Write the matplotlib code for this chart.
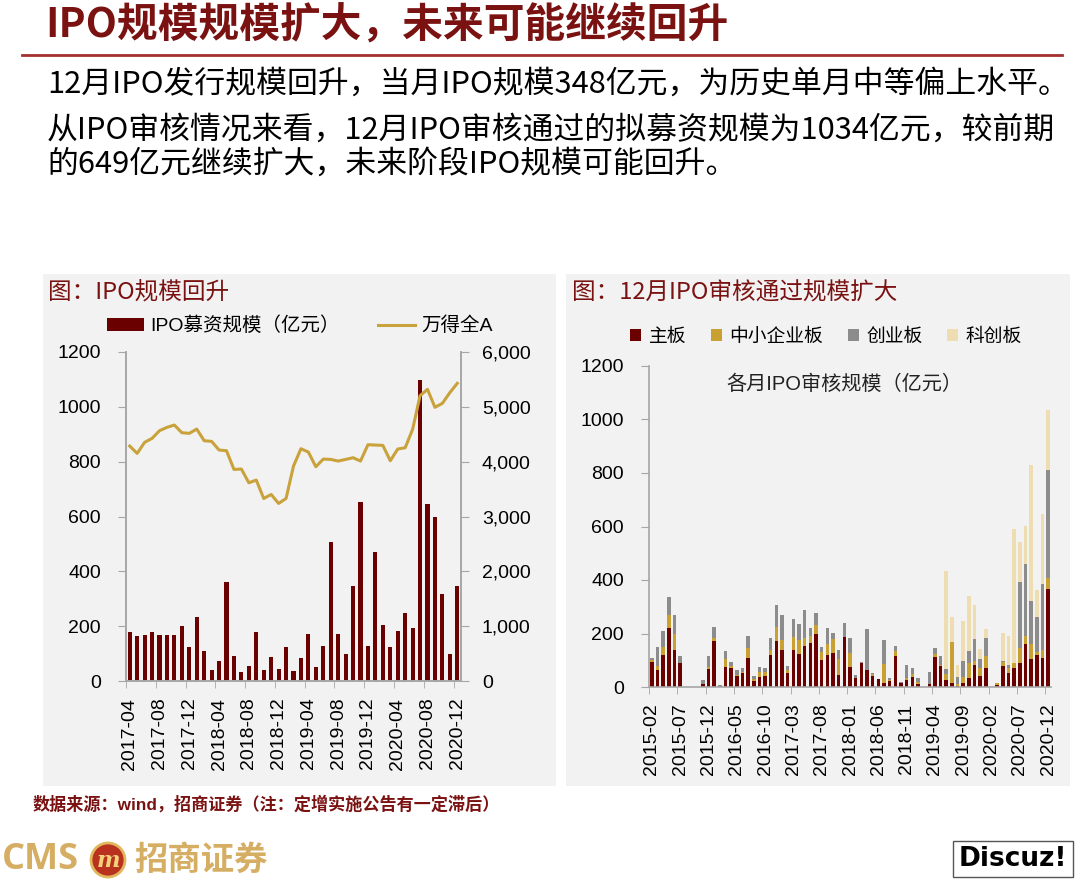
import numpy as np
import matplotlib
matplotlib.use('Agg')
import matplotlib.pyplot as plt
from matplotlib.patches import Rectangle, Ellipse
from matplotlib.lines import Line2D
from matplotlib.ticker import FuncFormatter, FixedLocator
from matplotlib.font_manager import FontProperties

# ---------------- data ----------------
left_tick_labels = ['2017-04', '2017-08', '2017-12', '2018-04', '2018-08', '2018-12',
                    '2019-04', '2019-08', '2019-12', '2020-04', '2020-08', '2020-12']
ipo_amount = [178, 163, 168, 180, 166, 169, 166, 200, 124, 232,
              110, 40, 73, 361, 90, 32, 55, 178, 41, 88,
              44, 124, 37, 84, 173, 50, 129, 507, 173, 100,
              346, 654, 127, 469, 206, 124, 181, 249, 192, 1097,
              645, 599, 319, 100, 348]
wind_a = [4285, 4151, 4352, 4425, 4565, 4626, 4668, 4528, 4516, 4595,
          4382, 4370, 4212, 4200, 3859, 3865, 3615, 3664, 3329, 3402,
          3238, 3329, 3920, 4236, 4175, 3907, 4047, 4041, 4011, 4041,
          4072, 4011, 4309, 4303, 4297, 4017, 4230, 4254, 4589, 5204,
          5319, 4991, 5064, 5259, 5429]

right_tick_labels = ['2015-02', '2015-07', '2015-12', '2016-05', '2016-10', '2017-03',
                     '2017-08', '2018-01', '2018-06', '2018-11', '2019-04', '2019-09',
                     '2020-02', '2020-07', '2020-12']
main_board = [93, 62, 119, 221, 137, 90, 0, 0, 0, 12,
              66, 171, 0, 75, 70, 42, 52, 109, 24, 36,
              41, 121, 171, 137, 51, 137, 125, 152, 164, 200,
              100, 120, 126, 44, 186, 74, 33, 90, 62, 42,
              30, 14, 22, 117, 16, 25, 37, 12, 0, 12,
              112, 77, 28, 16, 4, 15, 34, 82, 41, 72,
              0, 7, 79, 54, 70, 90, 160, 105, 121, 110,
              365]
sme_board = [9, 18, 31, 50, 62, 0, 0, 0, 0, 0,
             8, 14, 0, 31, 10, 4, 5, 36, 5, 20,
             14, 16, 52, 40, 11, 49, 52, 33, 27, 30,
             30, 40, 54, 61, 0, 53, 0, 0, 0, 5,
             0, 72, 5, 18, 0, 10, 12, 5, 0, 0,
             10, 5, 19, 151, 7, 21, 56, 15, 29, 45,
             0, 7, 16, 16, 21, 55, 31, 55, 11, 29,
             43]
gem_board = [7, 70, 58, 64, 72, 27, 0, 0, 0, 15,
             41, 38, 6, 30, 15, 19, 13, 46, 13, 19,
             15, 47, 82, 94, 17, 69, 59, 101, 30, 45,
             19, 62, 21, 35, 55, 58, 11, 2, 154, 7,
             1, 90, 7, 17, 2, 47, 23, 15, 0, 43,
             24, 33, 22, 0, 26, 61, 45, 84, 34, 65,
             0, 0, 2, 11, 0, 246, 270, 162, 131, 247,
             402]
star_board = [0, 0, 0, 0, 0, 0, 0, 0, 0, 0,
              0, 0, 0, 0, 0, 0, 0, 0, 0, 0,
              0, 0, 0, 0, 0, 0, 0, 0, 0, 0,
              0, 0, 0, 0, 0, 0, 0, 0, 0, 0,
              0, 0, 0, 0, 0, 0, 0, 0, 0, 0,
              0, 0, 363, 95, 45, 150, 205, 126, 37, 36,
              0, 0, 105, 110, 501, 150, 141, 507, 100, 261,
              225]

# ---------------- helpers ----------------
W, H = 1080, 881
def fx(x): return x / W
def fy(y): return 1 - y / H

CJK = ['Noto Sans CJK SC', 'DejaVu Sans']
LAT = ['Liberation Sans', 'Noto Sans CJK SC', 'DejaVu Sans']
DARK_RED = '#7A1212'
BAR_RED = '#6B0000'
GOLD = '#C9A23C'
SPINE = '#A6A6A6'
TICK_FS = 14

fig = plt.figure(figsize=(W / 100, H / 100), dpi=100)
fig.patch.set_facecolor('white')

# panels (behind axes)
fig.patches.append(Rectangle((fx(43), fy(786)), fx(556) - fx(43), fy(274) - fy(786),
                             transform=fig.transFigure, facecolor='#F2F2F2', edgecolor='none', zorder=-5))
fig.patches.append(Rectangle((fx(566), fy(786)), fx(1070) - fx(566), fy(274) - fy(786),
                             transform=fig.transFigure, facecolor='#F2F2F2', edgecolor='none', zorder=-5))

# headline
fig.text(fx(45), fy(26), 'IPO规模规模扩大，未来可能继续回升', fontsize=29.3, color=DARK_RED,
         fontweight='bold', va='center', ha='left', family=CJK)
fig.add_artist(Line2D([fx(22), fx(1062)], [fy(55), fy(55)], color='#A53030', lw=2))

para = ['12月IPO发行规模回升，当月IPO规模348亿元，为历史单月中等偏上水平。',
        '从IPO审核情况来看，12月IPO审核通过的拟募资规模为1034亿元，较前期',
        '的649亿元继续扩大，未来阶段IPO规模可能回升。']
for t, yy in zip(para, [84, 130, 164]):
    fig.text(fx(47), fy(yy), t, fontsize=22.2, color='black', va='center', ha='left',
             family=CJK, fontweight='medium')

# panel titles
fig.text(fx(48), fy(292), '图：IPO规模回升', fontsize=17, color=DARK_RED, va='center', family=CJK)
fig.text(fx(572), fy(292), '图：12月IPO审核通过规模扩大', fontsize=17, color=DARK_RED, va='center', family=CJK)

# ---------------- left chart ----------------
axL = fig.add_axes([fx(126), fy(681), fx(461) - fx(126), fy(352) - fy(681)])
axL.set_facecolor('none')
xl = np.arange(len(ipo_amount))
bars = axL.bar(xl, ipo_amount, width=0.55, color=BAR_RED, label='IPO募资规模（亿元）', zorder=2)
axL.set_xlim(-0.5, len(ipo_amount) - 0.5)
axL.set_ylim(0, 1200)
axL.set_yticks(np.arange(0, 1201, 200))
axR = axL.twinx()
line, = axR.plot(xl, wind_a, color=GOLD, lw=2.2, label='万得全A', zorder=3)
axR.set_ylim(0, 6000)
axR.set_yticks(np.arange(0, 6001, 1000))
axR.yaxis.set_major_formatter(FuncFormatter(lambda v, p: f'{int(v):,}'))

axL.set_xticks(np.arange(0, len(ipo_amount), 4))
axL.set_xticklabels(left_tick_labels, rotation=90)
axL.xaxis.set_minor_locator(FixedLocator(np.arange(-0.5, len(ipo_amount), 4)))
axL.tick_params(axis='x', which='major', length=0, pad=12)
axL.tick_params(axis='x', which='minor', length=5, color=SPINE, direction='out')
for ax in (axL, axR):
    ax.spines['top'].set_visible(False)
    for s in ('left', 'right', 'bottom'):
        ax.spines[s].set_color(SPINE)
        ax.spines[s].set_linewidth(1.2)
    ax.tick_params(axis='y', length=6, color=SPINE, labelsize=TICK_FS, pad=12)
    for lab in ax.get_yticklabels():
        lab.set_family(LAT)
axR.tick_params(axis='y', pad=9)
axL.tick_params(axis='x', labelsize=TICK_FS)
for lab in axL.get_xticklabels():
    lab.set_family(LAT)

fig.legend([bars, line], ['IPO募资规模（亿元）', '万得全A'], loc='center',
           bbox_to_anchor=(fx(300), fy(326)), ncol=2, frameon=False,
           prop=FontProperties(family=LAT, size=14), handlelength=1.9, handletextpad=0.3,
           columnspacing=2.0)

# ---------------- right chart ----------------
ax2 = fig.add_axes([fx(649), fy(687), fx(1051) - fx(649), fy(366) - fy(687)])
ax2.set_facecolor('none')
xr = np.arange(len(main_board))
m = np.array(main_board); s = np.array(sme_board); g = np.array(gem_board); k = np.array(star_board)
bw = 0.62
b1 = ax2.bar(xr, m, width=bw, color='#6B0000', label='主板')
b2 = ax2.bar(xr, s, width=bw, bottom=m, color='#C9A133', label='中小企业板')
b3 = ax2.bar(xr, g, width=bw, bottom=m + s, color='#8C8C8C', label='创业板')
b4 = ax2.bar(xr, k, width=bw, bottom=m + s + g, color='#EEDDB0', label='科创板')
ax2.set_xlim(-0.5, len(main_board) - 0.5)
ax2.set_ylim(0, 1200)
ax2.set_yticks(np.arange(0, 1201, 200))
ax2.set_xticks(np.arange(0, len(main_board), 5))
ax2.set_xticklabels(right_tick_labels, rotation=90)
ax2.xaxis.set_minor_locator(FixedLocator(np.arange(-0.5, len(main_board), 5)))
ax2.tick_params(axis='x', which='major', length=0, pad=12, labelsize=TICK_FS)
ax2.tick_params(axis='x', which='minor', length=5, color=SPINE, direction='out')
ax2.tick_params(axis='y', length=6, color=SPINE, labelsize=TICK_FS, pad=12)
for sp in ('top', 'right'):
    ax2.spines[sp].set_visible(False)
for sp in ('left', 'bottom'):
    ax2.spines[sp].set_color(SPINE)
    ax2.spines[sp].set_linewidth(1.2)
for lab in ax2.get_xticklabels() + ax2.get_yticklabels():
    lab.set_family(LAT)
ax2.text(fx(844) , fy(384), '各月IPO审核规模（亿元）', transform=fig.transFigure, ha='center', va='center',
         fontsize=14.5, family=LAT, color='#222222')

fig.legend([b1, b2, b3, b4], ['主板', '中小企业板', '创业板', '科创板'], loc='center',
           bbox_to_anchor=(fx(826), fy(336)), ncol=4, frameon=False,
           prop=FontProperties(family=CJK, size=13.5), handlelength=0.6, handleheight=0.6,
           handletextpad=0.4, columnspacing=1.3)

# ---------------- footer ----------------
fig.text(fx(33), fy(804), '数据来源：wind，招商证券（注：定增实施公告有一定滞后）', fontsize=12.3,
         color=DARK_RED, fontweight='bold', va='center', family=LAT)

fig.text(fx(2), fy(860), 'CMS', fontsize=26, color='#D6AE63', fontweight='bold', va='center',
         family=['Open Sans', 'DejaVu Sans'])
fig.patches.append(Ellipse((fx(108), fy(860)), 34 / W, 34 / H, transform=fig.transFigure,
                           facecolor='#B8321F', edgecolor='#E2B85C', lw=2, zorder=3))
fig.text(fx(108), fy(861), 'm', fontsize=16, color='#F3D27A', fontweight='bold', style='italic',
         ha='center', va='center', family=['DejaVu Serif'], zorder=4)
fig.text(fx(134), fy(860), '招商证券', fontsize=24, color='#D6AE63', fontweight='bold', va='center',
         family=CJK)

fig.text(fx(1013), fy(859), 'Discuz!', fontsize=19, color='black', ha='center', va='center',
         family=['DejaVu Sans'], fontweight='bold',
         bbox=dict(facecolor='white', edgecolor='#555555', boxstyle='square,pad=0.2'))

fig.savefig('out.png', dpi=100)
